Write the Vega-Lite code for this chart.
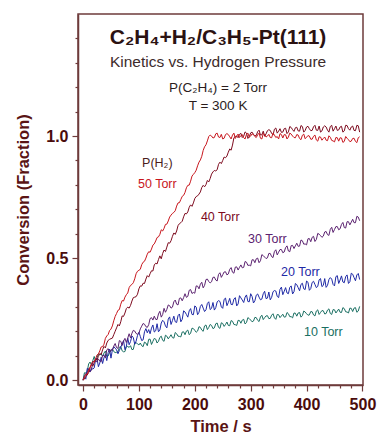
{
  "$schema": "https://vega.github.io/schema/vega-lite/v6.json",
  "width": 285,
  "height": 371,
  "autosize": "none",
  "padding": {"left": 78, "top": 14, "right": 14, "bottom": 55},
  "background": "white",
  "config": {
    "font": "Liberation Sans",
    "view": {"stroke": "#6e3b3b", "strokeWidth": 1.5},
    "axis": {
      "domainColor": "#6e3b3b", "domainWidth": 1.5,
      "tickColor": "#6e3b3b", "tickWidth": 1.2,
      "labelFont": "Liberation Sans", "labelFontWeight": "bold", "labelFontSize": 16, "labelColor": "#4a0c0c",
      "titleFont": "Liberation Sans", "titleFontWeight": "bold", "titleFontSize": 16.5, "titleColor": "#5a1414",
      "grid": false, "labelOverlap": false, "labelFlush": false
    }
  },
  "resolve": {"axis": {"x": "independent", "y": "independent"}},
  "datasets": {
    "curves": [
      {"t":0,"a":0,"b":0,"c":0,"d":0,"e":0},
      {"t":2.5,"a":0.013,"b":0.004,"c":0.017,"d":0.01,"e":0.03},
      {"t":5,"a":0.023,"b":0.015,"c":0.027,"d":0.004,"e":0.029},
      {"t":7.5,"a":0.024,"b":0.021,"c":0.03,"d":0.048,"e":0.036},
      {"t":10,"a":0.037,"b":0.031,"c":0.047,"d":0.045,"e":0.066},
      {"t":12.5,"a":0.05,"b":0.053,"c":0.034,"d":0.033,"e":0.074},
      {"t":15,"a":0.066,"b":0.063,"c":0.041,"d":0.05,"e":0.063},
      {"t":17.5,"a":0.076,"b":0.057,"c":0.074,"d":0.045,"e":0.08},
      {"t":20,"a":0.074,"b":0.071,"c":0.079,"d":0.05,"e":0.097},
      {"t":22.5,"a":0.087,"b":0.087,"c":0.077,"d":0.085,"e":0.077},
      {"t":25,"a":0.103,"b":0.082,"c":0.075,"d":0.09,"e":0.092},
      {"t":27.5,"a":0.107,"b":0.098,"c":0.087,"d":0.055,"e":0.107},
      {"t":30,"a":0.12,"b":0.109,"c":0.078,"d":0.07,"e":0.104},
      {"t":32.5,"a":0.136,"b":0.105,"c":0.076,"d":0.094,"e":0.107},
      {"t":35,"a":0.137,"b":0.124,"c":0.102,"d":0.068,"e":0.097},
      {"t":37.5,"a":0.147,"b":0.138,"c":0.1,"d":0.092,"e":0.111},
      {"t":40,"a":0.171,"b":0.132,"c":0.091,"d":0.106,"e":0.119},
      {"t":42.5,"a":0.181,"b":0.152,"c":0.124,"d":0.08,"e":0.097},
      {"t":45,"a":0.187,"b":0.163,"c":0.129,"d":0.113,"e":0.099},
      {"t":47.5,"a":0.203,"b":0.167,"c":0.113,"d":0.127,"e":0.113},
      {"t":50,"a":0.209,"b":0.17,"c":0.125,"d":0.09,"e":0.12},
      {"t":52.5,"a":0.222,"b":0.172,"c":0.122,"d":0.124,"e":0.128},
      {"t":55,"a":0.243,"b":0.186,"c":0.139,"d":0.137,"e":0.117},
      {"t":57.5,"a":0.261,"b":0.2,"c":0.15,"d":0.131,"e":0.113},
      {"t":60,"a":0.273,"b":0.214,"c":0.133,"d":0.124,"e":0.114},
      {"t":62.5,"a":0.286,"b":0.228,"c":0.13,"d":0.108,"e":0.116},
      {"t":65,"a":0.289,"b":0.222,"c":0.162,"d":0.121,"e":0.135},
      {"t":67.5,"a":0.311,"b":0.239,"c":0.159,"d":0.135,"e":0.137},
      {"t":70,"a":0.326,"b":0.263,"c":0.142,"d":0.148,"e":0.12},
      {"t":72.5,"a":0.324,"b":0.261,"c":0.16,"d":0.162,"e":0.116},
      {"t":75,"a":0.34,"b":0.275,"c":0.171,"d":0.125,"e":0.117},
      {"t":77.5,"a":0.35,"b":0.293,"c":0.154,"d":0.139,"e":0.137},
      {"t":80,"a":0.357,"b":0.299,"c":0.172,"d":0.172,"e":0.138},
      {"t":82.5,"a":0.379,"b":0.295,"c":0.19,"d":0.145,"e":0.134},
      {"t":85,"a":0.388,"b":0.306,"c":0.173,"d":0.158,"e":0.141},
      {"t":87.5,"a":0.392,"b":0.324,"c":0.192,"d":0.181,"e":0.125},
      {"t":90,"a":0.399,"b":0.338,"c":0.204,"d":0.174,"e":0.126},
      {"t":92.5,"a":0.415,"b":0.34,"c":0.201,"d":0.147,"e":0.152},
      {"t":95,"a":0.436,"b":0.342,"c":0.191,"d":0.16,"e":0.153},
      {"t":97.5,"a":0.446,"b":0.352,"c":0.188,"d":0.183,"e":0.149},
      {"t":100,"a":0.45,"b":0.374,"c":0.192,"d":0.196,"e":0.144},
      {"t":102.5,"a":0.454,"b":0.386,"c":0.21,"d":0.179,"e":0.152},
      {"t":105,"a":0.473,"b":0.385,"c":0.221,"d":0.162,"e":0.141},
      {"t":107.5,"a":0.483,"b":0.397,"c":0.232,"d":0.165,"e":0.137},
      {"t":110,"a":0.487,"b":0.396,"c":0.229,"d":0.198,"e":0.156},
      {"t":112.5,"a":0.5,"b":0.414,"c":0.219,"d":0.211,"e":0.152},
      {"t":115,"a":0.516,"b":0.428,"c":0.216,"d":0.194,"e":0.141},
      {"t":117.5,"a":0.526,"b":0.422,"c":0.227,"d":0.207,"e":0.167},
      {"t":120,"a":0.524,"b":0.436,"c":0.252,"d":0.19,"e":0.168},
      {"t":122.5,"a":0.537,"b":0.448,"c":0.256,"d":0.213,"e":0.146},
      {"t":125,"a":0.553,"b":0.447,"c":0.246,"d":0.226,"e":0.159},
      {"t":127.5,"a":0.558,"b":0.472,"c":0.262,"d":0.197,"e":0.171},
      {"t":130,"a":0.57,"b":0.479,"c":0.249,"d":0.202,"e":0.168},
      {"t":132.5,"a":0.584,"b":0.476,"c":0.248,"d":0.231,"e":0.152},
      {"t":135,"a":0.587,"b":0.494,"c":0.271,"d":0.198,"e":0.159},
      {"t":137.5,"a":0.597,"b":0.509,"c":0.282,"d":0.205,"e":0.175},
      {"t":140,"a":0.616,"b":0.497,"c":0.258,"d":0.234,"e":0.18},
      {"t":142.5,"a":0.611,"b":0.519,"c":0.269,"d":0.245,"e":0.163},
      {"t":145,"a":0.622,"b":0.533,"c":0.294,"d":0.239,"e":0.159},
      {"t":147.5,"a":0.638,"b":0.527,"c":0.278,"d":0.222,"e":0.184},
      {"t":150,"a":0.639,"b":0.545,"c":0.29,"d":0.214,"e":0.18},
      {"t":152.5,"a":0.652,"b":0.563,"c":0.308,"d":0.25,"e":0.169},
      {"t":155,"a":0.668,"b":0.561,"c":0.305,"d":0.259,"e":0.177},
      {"t":157.5,"a":0.676,"b":0.571,"c":0.295,"d":0.228,"e":0.186},
      {"t":160,"a":0.683,"b":0.589,"c":0.299,"d":0.244,"e":0.174},
      {"t":162.5,"a":0.687,"b":0.603,"c":0.321,"d":0.262,"e":0.172},
      {"t":165,"a":0.694,"b":0.597,"c":0.328,"d":0.239,"e":0.195},
      {"t":167.5,"a":0.713,"b":0.611,"c":0.311,"d":0.236,"e":0.19},
      {"t":170,"a":0.726,"b":0.633,"c":0.308,"d":0.264,"e":0.18},
      {"t":172.5,"a":0.727,"b":0.641,"c":0.335,"d":0.271,"e":0.179},
      {"t":175,"a":0.74,"b":0.645,"c":0.337,"d":0.239,"e":0.177},
      {"t":177.5,"a":0.753,"b":0.651,"c":0.325,"d":0.249,"e":0.197},
      {"t":180,"a":0.757,"b":0.669,"c":0.338,"d":0.284,"e":0.198},
      {"t":182.5,"a":0.769,"b":0.683,"c":0.354,"d":0.279,"e":0.186},
      {"t":185,"a":0.788,"b":0.681,"c":0.339,"d":0.269,"e":0.201},
      {"t":187.5,"a":0.798,"b":0.689,"c":0.343,"d":0.258,"e":0.205},
      {"t":190,"a":0.799,"b":0.708,"c":0.368,"d":0.284,"e":0.186},
      {"t":192.5,"a":0.815,"b":0.718,"c":0.371,"d":0.293,"e":0.192},
      {"t":195,"a":0.836,"b":0.712,"c":0.355,"d":0.269,"e":0.213},
      {"t":197.5,"a":0.843,"b":0.726,"c":0.359,"d":0.268,"e":0.211},
      {"t":200,"a":0.85,"b":0.744,"c":0.356,"d":0.304,"e":0.204},
      {"t":202.5,"a":0.86,"b":0.752,"c":0.386,"d":0.299,"e":0.196},
      {"t":205,"a":0.878,"b":0.755,"c":0.385,"d":0.268,"e":0.201},
      {"t":207.5,"a":0.893,"b":0.762,"c":0.374,"d":0.278,"e":0.219},
      {"t":210,"a":0.902,"b":0.771,"c":0.393,"d":0.302,"e":0.216},
      {"t":212.5,"a":0.917,"b":0.789,"c":0.401,"d":0.31,"e":0.205},
      {"t":215,"a":0.941,"b":0.798,"c":0.378,"d":0.295,"e":0.2},
      {"t":217.5,"a":0.956,"b":0.792,"c":0.388,"d":0.281,"e":0.222},
      {"t":220,"a":0.964,"b":0.801,"c":0.412,"d":0.288,"e":0.226},
      {"t":222.5,"a":0.98,"b":0.818,"c":0.414,"d":0.314,"e":0.207},
      {"t":225,"a":0.998,"b":0.812,"c":0.404,"d":0.321,"e":0.216},
      {"t":227.5,"a":1.004,"b":0.826,"c":0.398,"d":0.289,"e":0.228},
      {"t":230,"a":1.0,"b":0.844,"c":0.403,"d":0.294,"e":0.224},
      {"t":232.5,"a":0.992,"b":0.853,"c":0.421,"d":0.318,"e":0.211},
      {"t":235,"a":0.994,"b":0.859,"c":0.422,"d":0.287,"e":0.214},
      {"t":237.5,"a":1.009,"b":0.857,"c":0.41,"d":0.297,"e":0.231},
      {"t":240,"a":1.012,"b":0.862,"c":0.406,"d":0.32,"e":0.234},
      {"t":242.5,"a":0.996,"b":0.884,"c":0.433,"d":0.326,"e":0.216},
      {"t":245,"a":0.994,"b":0.893,"c":0.44,"d":0.322,"e":0.212},
      {"t":247.5,"a":1.007,"b":0.887,"c":0.421,"d":0.3,"e":0.235},
      {"t":250,"a":0.988,"b":0.9,"c":0.432,"d":0.294,"e":0.232},
      {"t":252.5,"a":0.991,"b":0.914,"c":0.443,"d":0.331,"e":0.22},
      {"t":255,"a":1.006,"b":0.911,"c":0.444,"d":0.336,"e":0.228},
      {"t":257.5,"a":1.01,"b":0.918,"c":0.431,"d":0.305,"e":0.238},
      {"t":260,"a":1.006,"b":0.934,"c":0.435,"d":0.318,"e":0.224},
      {"t":262.5,"a":0.997,"b":0.947,"c":0.454,"d":0.335,"e":0.223},
      {"t":265,"a":0.988,"b":0.942,"c":0.461,"d":0.31,"e":0.244},
      {"t":267.5,"a":1.004,"b":0.963,"c":0.442,"d":0.309,"e":0.241},
      {"t":270,"a":1.012,"b":0.993,"c":0.438,"d":0.332,"e":0.228},
      {"t":272.5,"a":0.99,"b":0.998,"c":0.463,"d":0.338,"e":0.227},
      {"t":275,"a":1.0,"b":1.0,"c":0.464,"d":0.304,"e":0.224},
      {"t":277.5,"a":1.008,"b":0.993,"c":0.451,"d":0.312,"e":0.245},
      {"t":280,"a":0.994,"b":1.007,"c":0.462,"d":0.346,"e":0.244},
      {"t":282.5,"a":1.002,"b":1.011,"c":0.472,"d":0.337,"e":0.233},
      {"t":285,"a":1.006,"b":0.994,"c":0.46,"d":0.328,"e":0.246},
      {"t":287.5,"a":0.993,"b":1.0,"c":0.462,"d":0.318,"e":0.249},
      {"t":290,"a":0.988,"b":1.017,"c":0.486,"d":0.34,"e":0.23},
      {"t":292.5,"a":1.007,"b":1.012,"c":0.483,"d":0.349,"e":0.236},
      {"t":295,"a":1.012,"b":0.99,"c":0.47,"d":0.322,"e":0.256},
      {"t":297.5,"a":0.995,"b":0.997,"c":0.471,"d":0.321,"e":0.252},
      {"t":300,"a":1.0,"b":1.013,"c":0.468,"d":0.354,"e":0.246},
      {"t":302.5,"a":1.009,"b":1.016,"c":0.493,"d":0.343,"e":0.239},
      {"t":305,"a":1.006,"b":1.007,"c":0.493,"d":0.316,"e":0.242},
      {"t":307.5,"a":0.998,"b":1.001,"c":0.481,"d":0.325,"e":0.257},
      {"t":310,"a":0.994,"b":1.002,"c":0.497,"d":0.348,"e":0.256},
      {"t":312.5,"a":1.005,"b":1.018,"c":0.5,"d":0.353,"e":0.245},
      {"t":315,"a":1.012,"b":1.024,"c":0.481,"d":0.34,"e":0.24},
      {"t":317.5,"a":0.991,"b":1.004,"c":0.489,"d":0.329,"e":0.259},
      {"t":320,"a":0.988,"b":1.005,"c":0.514,"d":0.332,"e":0.266},
      {"t":322.5,"a":1.01,"b":1.02,"c":0.51,"d":0.354,"e":0.248},
      {"t":325,"a":1.006,"b":0.999,"c":0.504,"d":0.364,"e":0.256},
      {"t":327.5,"a":0.996,"b":1.009,"c":0.498,"d":0.334,"e":0.263},
      {"t":330,"a":1.0,"b":1.022,"c":0.501,"d":0.336,"e":0.264},
      {"t":332.5,"a":1.007,"b":1.026,"c":0.519,"d":0.361,"e":0.252},
      {"t":335,"a":0.994,"b":1.023,"c":0.519,"d":0.329,"e":0.253},
      {"t":337.5,"a":0.993,"b":1.011,"c":0.506,"d":0.339,"e":0.266},
      {"t":340,"a":1.012,"b":1.004,"c":0.502,"d":0.362,"e":0.272},
      {"t":342.5,"a":1.004,"b":1.028,"c":0.527,"d":0.367,"e":0.255},
      {"t":345,"a":0.994,"b":1.033,"c":0.534,"d":0.365,"e":0.249},
      {"t":347.5,"a":0.998,"b":1.012,"c":0.513,"d":0.343,"e":0.269},
      {"t":350,"a":0.988,"b":1.02,"c":0.524,"d":0.338,"e":0.268},
      {"t":352.5,"a":1.01,"b":1.03,"c":0.535,"d":0.372,"e":0.256},
      {"t":355,"a":1.006,"b":1.015,"c":0.535,"d":0.381,"e":0.263},
      {"t":357.5,"a":0.992,"b":1.016,"c":0.522,"d":0.35,"e":0.27},
      {"t":360,"a":1.006,"b":1.03,"c":0.525,"d":0.364,"e":0.258},
      {"t":362.5,"a":1.005,"b":1.032,"c":0.543,"d":0.379,"e":0.259},
      {"t":365,"a":0.988,"b":1.01,"c":0.55,"d":0.357,"e":0.277},
      {"t":367.5,"a":0.996,"b":1.017,"c":0.529,"d":0.354,"e":0.272},
      {"t":370,"a":1.012,"b":1.039,"c":0.526,"d":0.38,"e":0.26},
      {"t":372.5,"a":1.008,"b":1.035,"c":0.551,"d":0.386,"e":0.26},
      {"t":375,"a":1.0,"b":1.026,"c":0.552,"d":0.353,"e":0.255},
      {"t":377.5,"a":0.994,"b":1.019,"c":0.539,"d":0.362,"e":0.275},
      {"t":380,"a":0.993,"b":1.034,"c":0.55,"d":0.396,"e":0.274},
      {"t":382.5,"a":1.006,"b":1.036,"c":0.561,"d":0.391,"e":0.262},
      {"t":385,"a":1.004,"b":1.021,"c":0.548,"d":0.379,"e":0.275},
      {"t":387.5,"a":0.99,"b":1.02,"c":0.549,"d":0.366,"e":0.277},
      {"t":390,"a":0.985,"b":1.043,"c":0.574,"d":0.392,"e":0.258},
      {"t":392.5,"a":1.003,"b":1.039,"c":0.571,"d":0.397,"e":0.264},
      {"t":395,"a":1.008,"b":1.016,"c":0.557,"d":0.374,"e":0.283},
      {"t":397.5,"a":0.989,"b":1.023,"c":0.558,"d":0.371,"e":0.279},
      {"t":400,"a":0.995,"b":1.037,"c":0.554,"d":0.406,"e":0.272},
      {"t":402.5,"a":1.002,"b":1.04,"c":0.579,"d":0.401,"e":0.266},
      {"t":405,"a":1.0,"b":1.03,"c":0.58,"d":0.368,"e":0.267},
      {"t":407.5,"a":0.987,"b":1.022,"c":0.567,"d":0.375,"e":0.281},
      {"t":410,"a":0.987,"b":1.023,"c":0.585,"d":0.4,"e":0.28},
      {"t":412.5,"a":0.999,"b":1.038,"c":0.589,"d":0.405,"e":0.267},
      {"t":415,"a":1.004,"b":1.044,"c":0.568,"d":0.392,"e":0.263},
      {"t":417.5,"a":0.984,"b":1.024,"c":0.576,"d":0.379,"e":0.283},
      {"t":420,"a":0.979,"b":1.023,"c":0.601,"d":0.384,"e":0.288},
      {"t":422.5,"a":0.997,"b":1.041,"c":0.598,"d":0.411,"e":0.269},
      {"t":425,"a":0.996,"b":1.016,"c":0.592,"d":0.416,"e":0.277},
      {"t":427.5,"a":0.983,"b":1.021,"c":0.585,"d":0.383,"e":0.285},
      {"t":430,"a":0.99,"b":1.037,"c":0.59,"d":0.388,"e":0.284},
      {"t":432.5,"a":0.996,"b":1.042,"c":0.607,"d":0.416,"e":0.271},
      {"t":435,"a":0.983,"b":1.037,"c":0.609,"d":0.38,"e":0.273},
      {"t":437.5,"a":0.981,"b":1.024,"c":0.596,"d":0.388,"e":0.287},
      {"t":440,"a":1.001,"b":1.016,"c":0.593,"d":0.412,"e":0.292},
      {"t":442.5,"a":0.995,"b":1.039,"c":0.618,"d":0.42,"e":0.273},
      {"t":445,"a":0.982,"b":1.044,"c":0.626,"d":0.414,"e":0.269},
      {"t":447.5,"a":0.98,"b":1.02,"c":0.605,"d":0.392,"e":0.289},
      {"t":450,"a":0.976,"b":1.03,"c":0.617,"d":0.386,"e":0.288},
      {"t":452.5,"a":0.994,"b":1.041,"c":0.629,"d":0.424,"e":0.275},
      {"t":455,"a":0.993,"b":1.023,"c":0.629,"d":0.428,"e":0.283},
      {"t":457.5,"a":0.979,"b":1.025,"c":0.616,"d":0.396,"e":0.291},
      {"t":460,"a":0.993,"b":1.037,"c":0.62,"d":0.41,"e":0.278},
      {"t":462.5,"a":0.992,"b":1.04,"c":0.638,"d":0.427,"e":0.277},
      {"t":465,"a":0.974,"b":1.016,"c":0.646,"d":0.402,"e":0.297},
      {"t":467.5,"a":0.978,"b":1.021,"c":0.625,"d":0.399,"e":0.293},
      {"t":470,"a":0.998,"b":1.044,"c":0.623,"d":0.424,"e":0.28},
      {"t":472.5,"a":0.991,"b":1.043,"c":0.649,"d":0.431,"e":0.279},
      {"t":475,"a":0.985,"b":1.03,"c":0.649,"d":0.396,"e":0.275},
      {"t":477.5,"a":0.977,"b":1.024,"c":0.636,"d":0.403,"e":0.295},
      {"t":480,"a":0.979,"b":1.037,"c":0.647,"d":0.438,"e":0.294},
      {"t":482.5,"a":0.99,"b":1.041,"c":0.659,"d":0.434,"e":0.281},
      {"t":485,"a":0.991,"b":1.023,"c":0.645,"d":0.42,"e":0.295},
      {"t":487.5,"a":0.978,"b":1.022,"c":0.645,"d":0.407,"e":0.297},
      {"t":490,"a":0.973,"b":1.044,"c":0.671,"d":0.431,"e":0.278},
      {"t":492.5,"a":0.993,"b":1.042,"c":0.668,"d":0.437,"e":0.283},
      {"t":495,"a":0.997,"b":1.016,"c":0.653,"d":0.412,"e":0.302}
    ],
    "one": [{}]
  },
  "layer": [
    {
      "data": {"name": "curves"},
      "transform": [{"fold": ["e", "d", "c", "b", "a"], "as": ["s", "v"]}],
      "mark": {"type": "line", "strokeWidth": 1},
      "encoding": {
        "x": {
          "field": "t", "type": "quantitative",
          "scale": {"domain": [-9, 501], "nice": false, "zero": false},
          "axis": {
            "orient": "bottom",
            "title": "Time / s",
            "values": [0, 100, 200, 300, 400, 500],
            "format": "d",
            "tickSize": 6,
            "labelOverlap": false,
            "labelFlush": false,
            "labelBound": false,
            "labelPadding": 5,
            "titlePadding": 6
          }
        },
        "y": {
          "field": "v", "type": "quantitative",
          "scale": {"domain": [-0.02, 1.5], "nice": false, "zero": false},
          "axis": {
            "orient": "left",
            "title": "Conversion (Fraction)",
            "values": [0, 0.5, 1],
            "format": ".1f",
            "tickSize": 6,
            "labelOverlap": false,
            "labelFlush": false,
            "labelBound": false,
            "labelPadding": 4,
            "titlePadding": 14
          }
        },
        "color": {
          "field": "s", "type": "nominal",
          "scale": {"domain": ["a", "b", "c", "d", "e"], "range": ["#c8161d", "#7d0a1e", "#5b2270", "#1f2aa6", "#1a6f62"]},
          "legend": null
        }
      }
    },
    {
      "data": {"name": "one"},
      "mark": {"type": "point", "opacity": 0, "size": 1},
      "encoding": {
        "x": {"datum": 0, "type": "quantitative",
          "axis": {"orient": "bottom", "title": null, "labels": false, "domain": false, "tickSize": 3,
            "values": [20,40,60,80,120,140,160,180,220,240,260,280,320,340,360,380,420,440,460,480]}},
        "y": {"datum": 0, "type": "quantitative",
          "axis": {"orient": "left", "title": null, "labels": false, "domain": false, "tickSize": 3,
            "values": [0.1,0.2,0.3,0.4,0.6,0.7,0.8,0.9,1.1,1.2,1.3,1.4]}}
      }
    },
    {
      "data": {"name": "one"},
      "mark": {"type": "text", "fontSize": 21, "fontWeight": "bold", "color": "#2b1212", "baseline": "middle", "align": "center", "text": "C₂H₄+H₂/C₃H₅-Pt(111)"},
      "encoding": {"x": {"datum": 241.6, "type": "quantitative", "axis": null}, "y": {"datum": 1.402, "type": "quantitative", "axis": null}}
    },
    {
      "data": {"name": "one"},
      "mark": {"type": "text", "fontSize": 15.5, "color": "#3d2b2b", "baseline": "middle", "align": "center", "text": "Kinetics vs. Hydrogen Pressure"},
      "encoding": {"x": {"datum": 241.6, "type": "quantitative", "axis": null}, "y": {"datum": 1.305, "type": "quantitative", "axis": null}}
    },
    {
      "data": {"name": "one"},
      "mark": {"type": "text", "fontSize": 13.5, "color": "#2b1d1d", "baseline": "middle", "align": "center", "text": "P(C₂H₄) = 2 Torr"},
      "encoding": {"x": {"datum": 241.6, "type": "quantitative", "axis": null}, "y": {"datum": 1.197, "type": "quantitative", "axis": null}}
    },
    {
      "data": {"name": "one"},
      "mark": {"type": "text", "fontSize": 13.5, "color": "#2b1d1d", "baseline": "middle", "align": "center", "text": "T = 300 K"},
      "encoding": {"x": {"datum": 241.6, "type": "quantitative", "axis": null}, "y": {"datum": 1.125, "type": "quantitative", "axis": null}}
    },
    {
      "data": {"name": "one"},
      "mark": {"type": "text", "fontSize": 12.5, "color": "#4a1c1c", "baseline": "middle", "align": "center", "text": "P(H₂)"},
      "encoding": {"x": {"datum": 133, "type": "quantitative", "axis": null}, "y": {"datum": 0.889, "type": "quantitative", "axis": null}}
    },
    {
      "data": {"name": "one"},
      "mark": {"type": "text", "fontSize": 12.5, "color": "#c8161d", "baseline": "middle", "align": "center", "text": "50 Torr"},
      "encoding": {"x": {"datum": 133, "type": "quantitative", "axis": null}, "y": {"datum": 0.803, "type": "quantitative", "axis": null}}
    },
    {
      "data": {"name": "one"},
      "mark": {"type": "text", "fontSize": 12.5, "color": "#7d0a1e", "baseline": "middle", "align": "center", "text": "40 Torr"},
      "encoding": {"x": {"datum": 245.5, "type": "quantitative", "axis": null}, "y": {"datum": 0.668, "type": "quantitative", "axis": null}}
    },
    {
      "data": {"name": "one"},
      "mark": {"type": "text", "fontSize": 12.5, "color": "#5b2270", "baseline": "middle", "align": "center", "text": "30 Torr"},
      "encoding": {"x": {"datum": 330, "type": "quantitative", "axis": null}, "y": {"datum": 0.578, "type": "quantitative", "axis": null}}
    },
    {
      "data": {"name": "one"},
      "mark": {"type": "text", "fontSize": 12.5, "color": "#1f2aa6", "baseline": "middle", "align": "center", "text": "20 Torr"},
      "encoding": {"x": {"datum": 389, "type": "quantitative", "axis": null}, "y": {"datum": 0.443, "type": "quantitative", "axis": null}}
    },
    {
      "data": {"name": "one"},
      "mark": {"type": "text", "fontSize": 12.5, "color": "#1a6f62", "baseline": "middle", "align": "center", "text": "10 Torr"},
      "encoding": {"x": {"datum": 430, "type": "quantitative", "axis": null}, "y": {"datum": 0.197, "type": "quantitative", "axis": null}}
    }
  ]
}
